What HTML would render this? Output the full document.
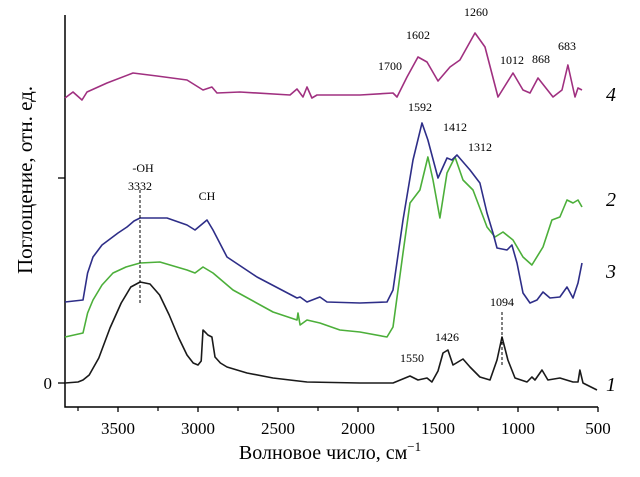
<!DOCTYPE html>
<html><head><meta charset="utf-8"><style>
body{margin:0;background:#fff;}
svg{display:block;font-family:"Liberation Serif","DejaVu Serif",serif;}
</style></head><body>
<svg id="c" width="640" height="477" viewBox="0 0 640 477"></svg>
<script>
const wave1=[3831,3750,3719,3680,3620,3550,3480,3420,3362,3300,3240,3180,3120,3069,3030,3000,2980,2969,2950,2938,2913,2894,2860,2819,2694,2531,2319,1988,1781,1675,1625,1569,1538,1500,1469,1438,1406,1344,1300,1238,1175,1131,1100,1063,1019,944,913,894,850,813,738,656,625,613,594,531,506];
const abs1=[0,1,3,8,25,55,80,96,101,99,88,68,45,28,20,18,22,53,50,48,46,26,20,16,10,5,1,0,0,7,3,5,1,12,30,33,18,24,16,6,3,23,46,23,5,1,6,3,13,3,5,1,1,13,0,-5,-7];
const wave3=[3831,3719,3690,3656,3600,3500,3444,3400,3362,3194,3069,3019,2944,2906,2819,2631,2381,2362,2319,2238,2194,1988,1819,1781,1719,1656,1600,1563,1500,1444,1413,1381,1300,1238,1194,1156,1131,1069,1038,1006,969,925,881,844,800,738,694,656,625,600];
const abs3=[81,83,110,126,138,150,156,162,165,165,158,153,163,153,126,106,85,86,81,86,81,80,81,93,163,223,260,243,205,225,223,228,213,200,170,150,135,133,138,120,90,80,83,91,85,86,96,85,100,120];
const wave2=[3831,3719,3690,3656,3600,3531,3450,3362,3238,3069,3019,2969,2906,2781,2531,2381,2375,2362,2319,2238,2113,1988,1819,1781,1719,1675,1613,1563,1531,1488,1444,1394,1344,1281,1194,1144,1094,1031,969,913,844,788,738,694,656,625,600];
const abs2=[46,50,70,83,98,110,116,120,121,113,110,116,110,93,71,63,70,58,63,60,53,51,46,56,130,180,193,226,203,165,210,226,203,193,156,146,151,143,126,118,136,163,166,183,180,183,176];
const wave4=[3831,3781,3725,3694,3569,3406,3256,3069,2969,2913,2881,2738,2425,2381,2344,2319,2288,2256,1988,1781,1756,1694,1625,1569,1500,1425,1363,1269,1206,1125,1031,969,925,875,781,725,688,644,625,600];
const abs4=[285,291,283,291,300,310,307,303,293,296,290,291,288,294,286,296,285,288,288,290,286,306,326,321,302,316,323,350,336,286,310,293,290,305,286,293,318,286,295,293];
const xTicks=[3500,3000,2500,2000,1500,1000,500];
const xMinor=[3750,3250,2750,2250,1750,1250,750];
const yTicks=[0,205];

const NS="http://www.w3.org/2000/svg";
const svg=document.getElementById('c');
const X=w=>598-(w-500)*0.16;
const Y=v=>383-v;
function el(t,a,txt){const e=document.createElementNS(NS,t);for(const k in a)e.setAttribute(k,a[k]);if(txt!==undefined)e.textContent=txt;svg.appendChild(e);return e;}

let ax=el('path',{d:'M65 15 V407 H598',fill:'none',stroke:'#000','stroke-width':1.5});


xTicks.forEach(t=>{
 let l=el('line',{x1:X(t),x2:X(t),y1:407,y2:412,stroke:'#000','stroke-width':1.3});
 
 
 let s=el('text',{x:X(t),y:434,'text-anchor':'middle','font-size':17},String(t));
 
 
});
xMinor.forEach(t=>{
 let l=el('line',{x1:X(t),x2:X(t),y1:407,y2:411,stroke:'#000','stroke-width':1.2});
 
 
});
yTicks.forEach(t=>{
 let l=el('line',{x1:58,x2:65,y1:Y(t),y2:Y(t),stroke:'#000','stroke-width':1.3});
 
 
});
let z=el('text',{x:52,y:389,'text-anchor':'end','font-size':17},'0');



function line(w,a,color,name){
 const d=w.map((x,i)=>(i?'L':'M')+X(x).toFixed(1)+' '+Y(a[i]).toFixed(1)).join(' ');
 const p=el('path',{d:d,fill:'none',stroke:color,'stroke-width':1.6,'stroke-linejoin':'round'});
 
 
}
line(wave4,abs4,'#a03080','series-4');
line(wave2,abs2,'#4caf3a','series-2');
line(wave3,abs3,'#2e2e88','series-3');
line(wave1,abs1,'#1a1a1a','series-1');

let d1=el('line',{x1:140,x2:140,y1:190,y2:305,stroke:'#000','stroke-dasharray':'3,2','stroke-width':1});


let d2=el('line',{x1:502,x2:502,y1:312,y2:365,stroke:'#000','stroke-dasharray':'3,2','stroke-width':1});



const ann=[['1700',390,70],['1602',418,39],['1260',476,16],['1012',512,64],['868',541,63],['683',567,50],['1592',420,111],['1412',455,131],['1312',480,151],['1094',502,306],['1426',447,341],['1550',412,362],['-OH',143,172],['3332',140,190],['CH',207,200]];
ann.forEach(a=>{
 let t=el('text',{x:a[1],y:a[2],'text-anchor':'middle','font-size':12},a[0]);
 
 
});
const nums=[['4',606,101],['2',606,206],['3',606,278],['1',606,391]];
nums.forEach(n=>{
 let t=el('text',{x:n[1],y:n[2],'font-size':20,'font-style':'italic'},n[0]);
 
 
});
let xt=el('text',{x:330,y:459,'text-anchor':'middle','font-size':20},'Волновое число, см');


const sp=document.createElementNS(NS,'tspan');
sp.setAttribute('font-size','13');
sp.setAttribute('dy','-8');
sp.textContent='−1';
xt.appendChild(sp);
let yt=el('text',{x:0,y:0,'text-anchor':'middle','font-size':21,transform:'translate(32 180) rotate(-90)'},'Поглощение, отн. ед.');


</script>
</body></html>
